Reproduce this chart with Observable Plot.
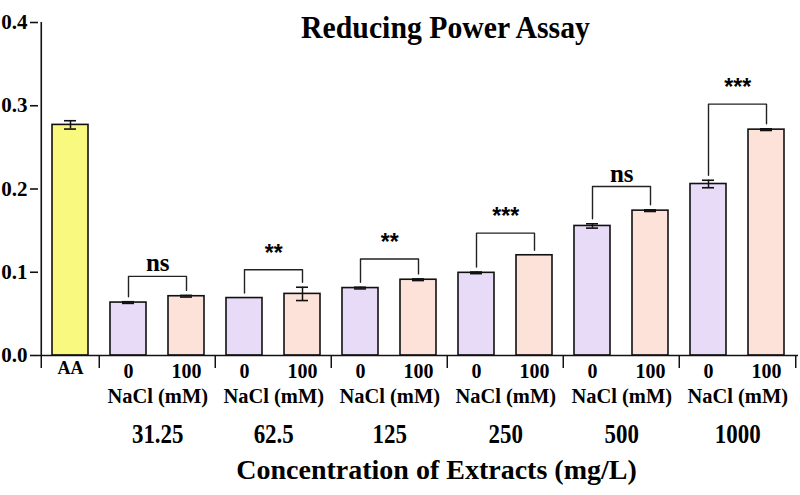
<!DOCTYPE html>
<html><head><meta charset="utf-8">
<script src="https://cdn.jsdelivr.net/npm/d3@7"></script>
<script src="https://cdn.jsdelivr.net/npm/@observablehq/plot@0.6"></script>
<style>
body{margin:0;background:#fff}
svg text{font-weight:bold}
</style>
</head><body><div id="chart"></div>
<script>
// ---- data ----
const concentrations = ["31.25", "62.5", "125", "250", "500", "1000"];
const naclLevels = ["0", "100"];
const aaLabel = "AA";
const aaMean = 0.277;
const aaErr = 0.005;
const mean0 = [0.0636, 0.069, 0.081, 0.0993, 0.1556, 0.206];
const err0 = [0.001, 0, 0.001, 0.001, 0.0026, 0.0045];
const mean100 = [0.0712, 0.074, 0.091, 0.1204, 0.174, 0.2713];
const err100 = [0.001, 0.008, 0.001, 0, 0.001, 0.001];
const sigLabels = ["ns", "**", "**", "***", "ns", "***"];
const bracketHeights = [0.095, 0.103, 0.116, 0.147, 0.203, 0.302];
const yTicks = [0, 0.1, 0.2, 0.3, 0.4];
const titleText = "Reducing Power Assay";
const xTitleText = "Concentration of Extracts (mg/L)";
const naclTitle = "NaCl (mM)";

// ---- derived tables ----
const bars = [{key: aaLabel, label: aaLabel, group: aaLabel, mean: aaMean, err: aaErr, kind: "AA"}];
concentrations.forEach((c, i) => {
  bars.push({key: c + "|" + naclLevels[0], label: naclLevels[0], group: c, mean: mean0[i], err: err0[i], kind: "0"});
  bars.push({key: c + "|" + naclLevels[1], label: naclLevels[1], group: c, mean: mean100[i], err: err100[i], kind: "100"});
});
const domain = bars.map(d => d.key);
const W = 800, H = 495, ML = 38, MR = 2, MT = 22, MB = 140;
const step = (W - ML - MR) / domain.length;
const errBars = bars.filter(d => d.err > 0);
const gap = 0.006;
const brackets = [];
concentrations.forEach((c, i) => {
  const a = bars.find(b => b.key === c + "|0");
  const b = bars.find(b => b.key === c + "|100");
  brackets.push({id: c, x: a.key, y: a.mean + a.err + gap});
  brackets.push({id: c, x: a.key, y: bracketHeights[i]});
  brackets.push({id: c, x: b.key, y: bracketHeights[i]});
  brackets.push({id: c, x: b.key, y: b.mean + b.err + gap});
});
const sig = concentrations.map((c, i) => ({x: c + "|0", y: bracketHeights[i], label: sigLabels[i]}));
const groupFirstKeys = concentrations.map(c => c + "|0");
const separatorKeys = [aaLabel, ...groupFirstKeys];

const serif = "Liberation Serif, Times New Roman, serif";
const sans = "Liberation Sans, Arial, sans-serif";
const ink = "#111";

const chart = Plot.plot({
  width: W, height: H,
  marginLeft: ML, marginRight: MR, marginTop: MT, marginBottom: MB,
  style: {fontFamily: serif, background: "#fff", color: "#000", overflow: "visible"},
  x: {type: "band", domain, paddingInner: 0.384, paddingOuter: 0.192, axis: null},
  y: {domain: [0, 0.4], axis: null},
  color: {domain: ["AA", "0", "100"], range: ["#f9f97f", "#e7dbf8", "#fde2da"]},
  marks: [
    Plot.barY(bars, {x: "key", y: "mean", fill: "kind", stroke: ink, strokeWidth: 1.6}),
    Plot.ruleX(errBars, {x: "key", y1: d => d.mean - d.err, y2: d => d.mean + d.err, stroke: ink, strokeWidth: 1.5}),
    Plot.tickY(errBars, {x: "key", y: d => d.mean + d.err, insetLeft: 12, insetRight: 12, stroke: ink, strokeWidth: 1.6}),
    Plot.tickY(errBars, {x: "key", y: d => d.mean - d.err, insetLeft: 12, insetRight: 12, stroke: ink, strokeWidth: 1.6}),
    Plot.line(brackets, {x: "x", y: "y", z: "id", stroke: "#222", strokeWidth: 1.4}),
    Plot.text(sig.filter(d => d.label === "ns"), {x: "x", y: "y", text: "label", dx: step / 2, dy: -5, lineAnchor: "bottom", fontSize: 25, fontFamily: serif, fill: "#000"}),
    Plot.text(sig.filter(d => d.label !== "ns"), {x: "x", y: "y", text: "label", dx: step / 2, dy: -9, lineAnchor: "bottom", fontSize: 23, fontFamily: sans, fill: "#000"}),
    // axes
    Plot.ruleY([0], {stroke: ink, strokeWidth: 1.6}),
    Plot.ruleX([aaLabel], {dx: -step / 2, y1: 0, y2: 0.4, stroke: ink, strokeWidth: 1.6}),
    Plot.axisY({ticks: yTicks, tickFormat: d3.format(".1f"), tickSize: 8, tickPadding: 3, fontSize: 21, fontFamily: serif, label: null, stroke: ink, strokeWidth: 1.6, fill: "#000"}),
    Plot.axisX(separatorKeys, {tickSize: 13, dx: -step / 2, tickFormat: () => "", label: null, stroke: ink, strokeWidth: 1.5}),
    Plot.axisX([domain[domain.length - 1]], {tickSize: 13, dx: step / 2, tickFormat: () => "", label: null, stroke: ink, strokeWidth: 1.5}),
    // x labels
    Plot.text(bars.filter(d => d.kind === "AA"), {x: "key", text: "label", frameAnchor: "bottom", dy: 18, fontSize: 18, fontFamily: serif, fill: "#000"}),
    Plot.text(bars.filter(d => d.kind !== "AA"), {x: "key", text: "label", frameAnchor: "bottom", dy: 22, fontSize: 20, fontFamily: serif, fill: "#000"}),
    Plot.text(groupFirstKeys, {x: d => d, text: () => naclTitle, frameAnchor: "bottom", dx: step / 2, dy: 47, fontSize: 22, fontFamily: serif, fill: "#000"}),
    Plot.text(concentrations, {x: d => d + "|0", text: d => d, frameAnchor: "bottom", dx: step / 2, dy: 87, fontSize: 27, fontFamily: serif, fill: "#000"}),
    Plot.text([xTitleText], {frameAnchor: "bottom", dx: 18, dy: 123, fontSize: 28, fontFamily: serif, fill: "#000"}),
    Plot.text([titleText], {frameAnchor: "top", dx: 27, dy: -7, fontSize: 32, fontFamily: serif, fill: "#000"})
  ]
});
document.getElementById("chart").appendChild(chart);

// the reference's lettering is horizontally condensed: narrow some labels to match
const squeeze = new Map([[titleText, 0.93], [naclTitle, 0.93]]);
concentrations.forEach(c => squeeze.set(c, 0.85));
chart.querySelectorAll("text").forEach(t => {
  const f = squeeze.get(t.textContent);
  if (f) {
    try {
      const L = t.getComputedTextLength();
      t.setAttribute("textLength", (L * f).toFixed(1));
      t.setAttribute("lengthAdjust", "spacingAndGlyphs");
    } catch (e) {}
  }
});
</script>
</body></html>
